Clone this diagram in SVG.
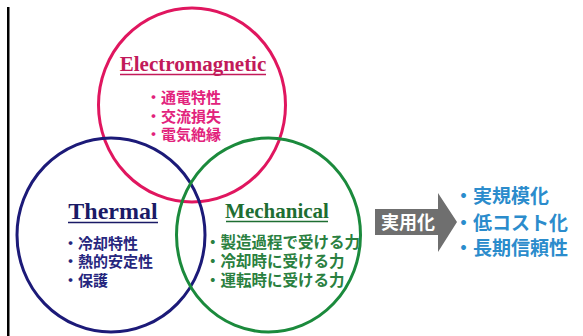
<svg xmlns="http://www.w3.org/2000/svg" width="583" height="336" viewBox="0 0 583 336">
<style>
.ttl{font-family:"Liberation Serif","Times New Roman",serif;font-weight:bold;text-anchor:middle}
.jp{font-family:"Noto Sans CJK JP","Noto Sans",sans-serif;font-weight:bold}
.ring{fill:none;stroke-width:3}
</style>
<rect width="583" height="336" fill="#ffffff"/>
<rect x="7" y="7" width="2.5" height="329" fill="#000000"/>
<g id="electromagnetic">
<ellipse class="ring" cx="192" cy="105" rx="93.5" ry="97" stroke="#e0165f"/>
<text class="ttl" x="193" y="71" font-size="21" fill="#c21a5a">Electromagnetic</text>
<line x1="120" y1="74.5" x2="266" y2="74.5" stroke="#c21a5a" stroke-width="1.5"/>
<text class="jp" font-size="15" fill="#e2227c"><tspan x="146" y="103">・通電特性</tspan><tspan x="146" y="121.5">・交流損失</tspan><tspan x="146" y="140">・電気絶縁</tspan></text>
</g>
<g id="thermal">
<ellipse class="ring" cx="111" cy="235" rx="94" ry="97" stroke="#1c1a78"/>
<text class="ttl" x="113" y="219" font-size="24" fill="#1a1a66">Thermal</text>
<line x1="68" y1="222.5" x2="158" y2="222.5" stroke="#1a1a66" stroke-width="1.5"/>
<text class="jp" font-size="15" fill="#26267e"><tspan x="63" y="249">・冷却特性</tspan><tspan x="63" y="267">・熱的安定性</tspan><tspan x="63" y="286">・保護</tspan></text>
</g>
<g id="mechanical">
<ellipse class="ring" cx="268.5" cy="235" rx="92" ry="97" stroke="#1b8a3c"/>
<text class="ttl" x="277" y="218" font-size="21" fill="#1e6e32">Mechanical</text>
<line x1="226" y1="221.5" x2="328" y2="221.5" stroke="#1e6e32" stroke-width="1.5"/>
<text class="jp" font-size="15.5" fill="#2a8040"><tspan x="205" y="248">・製造過程で受ける力</tspan><tspan x="205" y="267">・冷却時に受ける力</tspan><tspan x="205" y="286">・運転時に受ける力</tspan></text>
</g>
<g id="connectors">
<path d="M375,209 H438 V193 L457,222 L438,252 V235 H375 Z" fill="#6f6f6f"/>
<text class="jp" x="381" y="229" font-size="18" fill="#ffffff">実用化</text>
</g>
<g id="outcomes">
<text class="jp" font-size="19" fill="#2b8ccc"><tspan x="454" y="203">・実規模化</tspan><tspan x="454" y="230">・低コスト化</tspan><tspan x="454" y="255">・長期信頼性</tspan></text>
</g>
</svg>
